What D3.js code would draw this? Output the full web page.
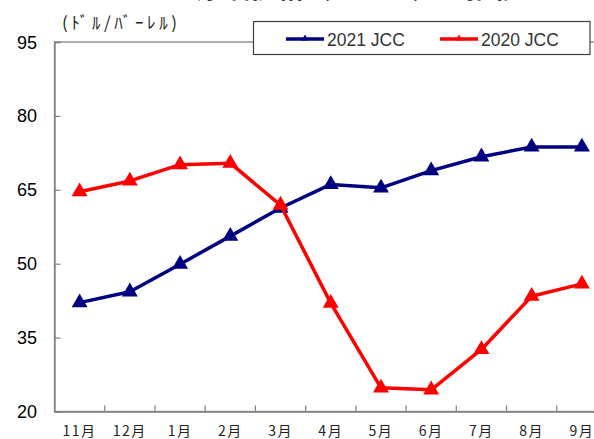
<!DOCTYPE html>
<html><head><meta charset="utf-8">
<script src="https://cdn.jsdelivr.net/npm/d3@7"></script>
<style>
html,body{margin:0;padding:0;background:#fff;overflow:hidden;}
svg{display:block;}
</style></head>
<body>
<script>
const months = ["11月","12月","1月","2月","3月","4月","5月","6月","7月","8月","9月"];
const jcc2021 = [42.1, 44.3, 49.9, 55.6, 61.3, 66.1, 65.4, 68.9, 71.7, 73.7, 73.7];
const jcc2020 = [64.6, 66.8, 70.1, 70.4, 61.9, 42.0, 24.8, 24.4, 32.6, 43.4, 45.9];
const yTicks = [20, 35, 50, 65, 80, 95];
const seriesNames = ["2021 JCC", "2020 JCC"];
const seriesColors = ["#000080", "#ff0000"];
const titleText = "原油価格（ＪＣＣ）の推移";
const unitText = "(ﾄﾞﾙ/ﾊﾞｰﾚﾙ)";

const W = 594, H = 439;
const mLeft = 54.5, mTop = 42, mBottom = 411.5, mRight = 607;

const svg = d3.select("body").append("svg").attr("width", W).attr("height", H);

const x = d3.scaleBand().domain(months).range([mLeft, mRight]).paddingInner(0).paddingOuter(0);
const y = d3.scaleLinear().domain([20, 95]).range([mBottom, mTop]);

// title (cut off at top, as in the reference)
svg.append("text").attr("x", 358).attr("y", -2.5)
  .attr("text-anchor", "middle")
  .attr("font-family", "Noto Sans CJK JP").attr("font-weight", "bold")
  .attr("font-size", 27).attr("fill", "#000").text(titleText);

// unit label
svg.append("text").attr("x", 62).attr("y", 29)
  .attr("font-family", "Noto Sans CJK JP").attr("font-size", 17)
  .attr("textLength", 115).attr("lengthAdjust", "spacing")
  .attr("fill", "#222").text(unitText);

// plot frame
svg.append("rect").attr("x", mLeft).attr("y", mTop)
  .attr("width", mRight - mLeft).attr("height", mBottom - mTop)
  .attr("fill", "none").attr("stroke", "#808080").attr("stroke-width", 1.3);

// y axis
const yAxis = d3.axisRight(y).tickValues(yTicks).tickSize(6).tickFormat("");
const ya = svg.append("g").attr("transform", `translate(${mLeft},0)`).call(yAxis);
ya.select(".domain").attr("stroke", "#808080").attr("stroke-width", 1.3);
ya.selectAll(".tick line").attr("stroke", "#808080").attr("stroke-width", 1.2);
svg.append("g").selectAll("text").data(yTicks).join("text")
  .attr("x", 37).attr("y", d => y(d) + 6.5)
  .attr("text-anchor", "end")
  .attr("font-family", "Liberation Sans, Arial, sans-serif").attr("font-size", 18)
  .attr("fill", "#000").text(d => d);

// x axis
const xAxis = d3.axisTop(x).tickSize(0).tickFormat("");
const xa = svg.append("g").attr("transform", `translate(0,${mBottom})`).call(xAxis);
xa.select(".domain").attr("stroke", "#808080").attr("stroke-width", 1.3);
svg.append("g").selectAll("line").data(months.slice(1)).join("line")
  .attr("x1", d => x(d)).attr("x2", d => x(d))
  .attr("y1", mBottom).attr("y2", mBottom - 6)
  .attr("stroke", "#808080").attr("stroke-width", 1.2);
svg.append("g").selectAll("text").data(months).join("text")
  .attr("x", d => x(d) + x.bandwidth() / 2).attr("y", 436)
  .attr("text-anchor", "middle")
  .attr("font-family", "Noto Sans CJK JP").attr("font-size", 14)
  .attr("letter-spacing", 1.5)
  .attr("fill", "#222").text(d => d);

const cx = d => x(d) + x.bandwidth() / 2;
const line = d3.line().x(d => cx(d.m)).y(d => y(d.v));
const tri = d3.symbol().type(d3.symbolTriangle).size(110);

[jcc2021, jcc2020].forEach((vals, i) => {
  const data = months.map((m, k) => ({m, v: vals[k]}));
  const g = svg.append("g");
  g.append("path").attr("d", line(data)).attr("fill", "none")
    .attr("stroke", seriesColors[i]).attr("stroke-width", 3.5).attr("stroke-linejoin", "round");
  g.selectAll("path.m").data(data).join("path").attr("class", "m")
    .attr("transform", d => `translate(${cx(d.m)},${y(d.v)})`)
    .attr("d", tri).attr("fill", seriesColors[i]);
});

// legend
const lg = svg.append("g");
lg.append("rect").attr("x", 253.5).attr("y", 21.5).attr("width", 336.5).attr("height", 33)
  .attr("fill", "#fff").attr("stroke", "#404040").attr("stroke-width", 1.2);
const legX = [286, 440];
seriesNames.forEach((name, i) => {
  const lx = legX[i];
  lg.append("line").attr("x1", lx).attr("x2", lx + 38).attr("y1", 39).attr("y2", 39)
    .attr("stroke", seriesColors[i]).attr("stroke-width", 3.5);
  lg.append("path").attr("transform", `translate(${lx + 19},38.5)`)
    .attr("d", d3.symbol().type(d3.symbolTriangle).size(22)()).attr("fill", seriesColors[i]);
  lg.append("text").attr("x", lx + 41).attr("y", 45.5)
    .attr("font-family", "Liberation Sans, Arial, sans-serif").attr("font-size", 17.5)
    .attr("fill", "#333").text(name);
});
</script>
</body></html>
